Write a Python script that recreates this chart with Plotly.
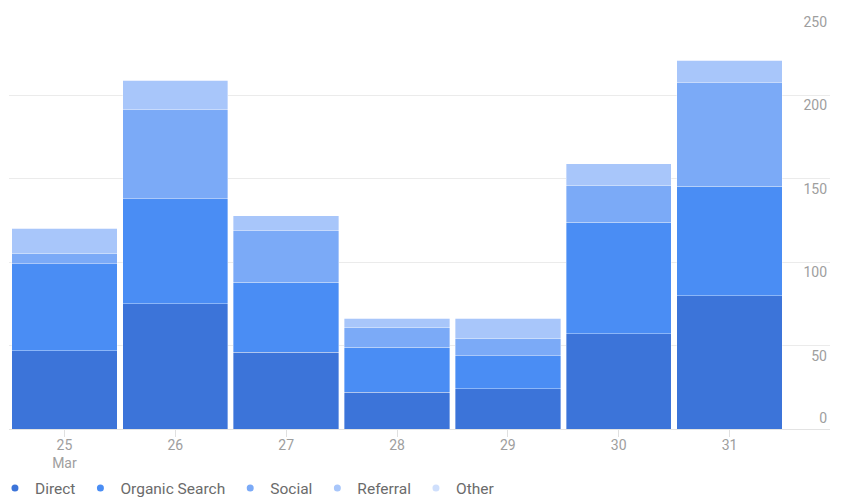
import plotly.graph_objects as go

dates = ["25<br>Mar", "26", "27", "28", "29", "30", "31"]
series_names = ["Direct", "Organic Search", "Social", "Referral", "Other"]
direct = [47, 75, 46, 22, 24, 57, 80]
organic = [52, 63, 42, 27, 20, 67, 65.5]
social = [6.5, 53.5, 31, 12, 10.5, 22, 62]
referral = [15, 17.5, 9, 5.5, 12, 13, 13.5]
other = [0, 0, 0, 0, 0, 0, 0]
y_ticks = [50, 100, 150, 200, 250]

colors = ["#3c74d9", "#4a8df4", "#7baaf7", "#a8c6fa", "#cfdffc"]
values = [direct, organic, social, referral, other]

fig = go.Figure()
for name, vals, col in zip(series_names, values, colors):
    fig.add_trace(go.Bar(
        x=dates, y=vals, name=name, marker_color=col,
        marker_line=dict(width=0.6, color="rgba(255,255,255,0.6)"),
        showlegend=False,
    ))
for name, col in zip(series_names, colors):
    fig.add_trace(go.Scatter(
        x=[None], y=[None], mode="markers", name=name,
        marker=dict(color=col, size=7, symbol="circle"),
    ))

fig.add_trace(go.Scatter(x=[None], y=[None], yaxis="y2", showlegend=False))

font_family = "Roboto, Arial, sans-serif"
fig.update_layout(
    width=841, height=499,
    margin=dict(l=0, r=0, t=12, b=70, autoexpand=False),
    barmode="stack",
    bargap=0.05,
    plot_bgcolor="white",
    paper_bgcolor="white",
    font=dict(family=font_family, size=14, color="#9e9e9e"),
    xaxis=dict(
        domain=[9 / 841, 830 / 841],
        range=[-0.5, 6.906],
        type="category",
        showgrid=False,
        showline=True, linecolor="#e3e3e3", linewidth=1,
        ticks="outside", ticklen=7, tickcolor="#e0e0e0",
        ticklabelstandoff=-4,
        tickfont=dict(size=14, color="#9e9e9e"),
        fixedrange=True,
    ),
    yaxis=dict(
        range=[0, 250],
        side="right",
        tickvals=y_ticks,
        ticklabelposition="inside",
        ticklabelshift=10,
        showgrid=True, gridcolor="#ebebeb", gridwidth=1,
        zeroline=False,
        showline=False,
        tickfont=dict(size=14, color="#9e9e9e"),
    ),
    yaxis2=dict(
        range=[0, 250],
        overlaying="y",
        side="right",
        tickvals=[0],
        ticklabelposition="inside",
        ticklabelshift=-11,
        showgrid=False, zeroline=False, showline=False,
        tickfont=dict(size=14, color="#9e9e9e"),
    ),
    legend=dict(
        orientation="h",
        traceorder="normal",
        x=-0.006, xanchor="left",
        y=-0.1427, yanchor="middle",
        font=dict(size=15.5, color="#6b6b6b"),
        itemwidth=30,
        bgcolor="rgba(0,0,0,0)",
    ),
)

fig.write_html("out.html")
